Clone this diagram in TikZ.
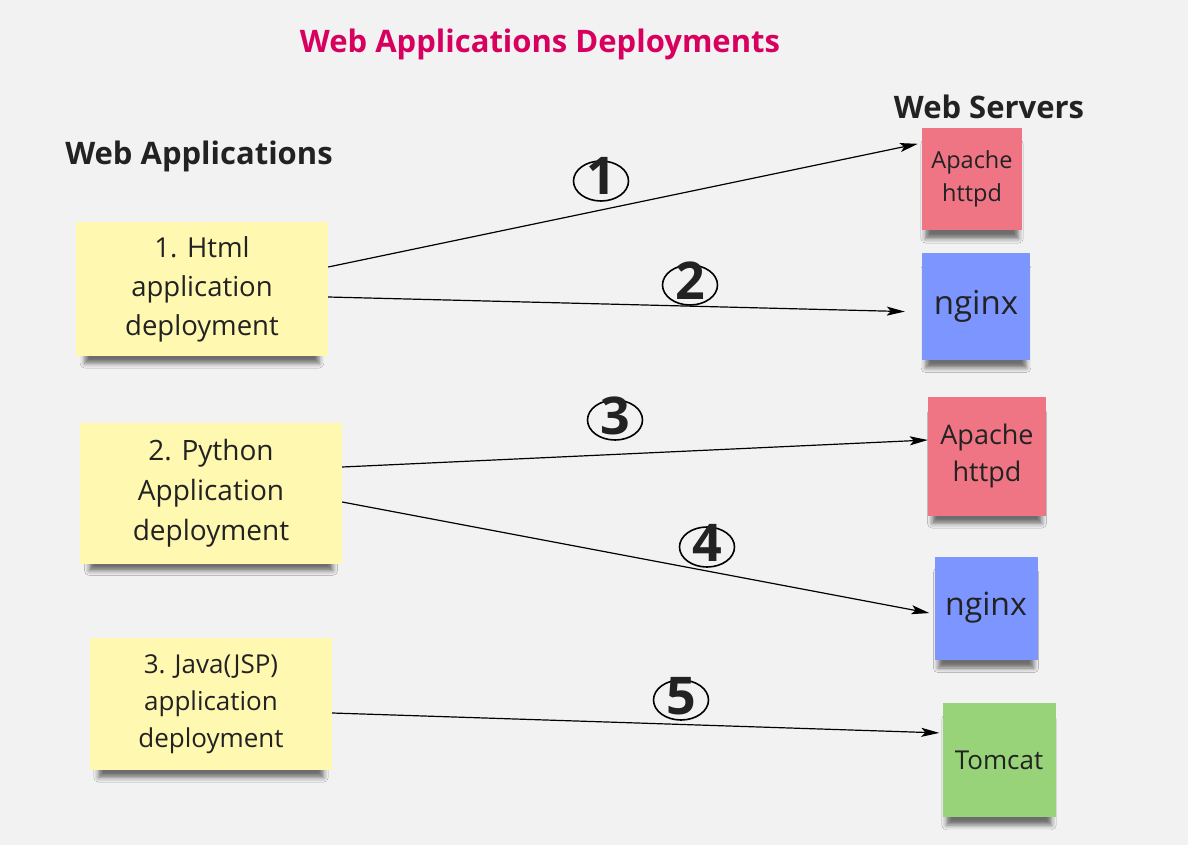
\documentclass[tikz,border=0pt]{standalone}
\usepackage{fontspec}
\setmainfont{Open Sans}
\usetikzlibrary{arrows.meta, shapes.geometric, shadows.blur}

\definecolor{bgcol}{HTML}{F2F2F2}
\definecolor{titlecol}{HTML}{D8005F}
\definecolor{inkcol}{HTML}{222222}
\definecolor{stickyyellow}{HTML}{FFF8B0}
\definecolor{stickyred}{HTML}{EF7585}
\definecolor{stickyblue}{HTML}{7D96FF}
\definecolor{stickygreen}{HTML}{98D37A}

\newcommand{\circdigit}[1]{\smash{\raisebox{-14pt}{#1}}}

\begin{document}
\begin{tikzpicture}[
    x=1pt, y=-1pt,
    heading/.style={anchor=base, text=inkcol, font=\fontsize{31}{36}\selectfont\bfseries},
    sticky/.style={align=center, text=inkcol, inner sep=0pt,
        blur shadow={shadow xshift=0pt, shadow yshift=-13pt, shadow blur radius=5pt,
            shadow opacity=55, shadow scale=.93}},
    appnote/.style={sticky, fill=stickyyellow},
    server/.style={sticky},
    numlabel/.style={draw, ellipse, line width=1.6pt, inner sep=0pt, minimum width=55pt, minimum height=40pt,
        font=\fontsize{52}{52}\selectfont\bfseries, text=inkcol},
    flow/.style={-{Stealth[length=18pt, width=9pt, inset=4pt]}, line width=1.2pt}
]

\fill[bgcol] (0,0) rectangle (1188,845);
\useasboundingbox (0,0) rectangle (1188,845);

% headings
\node[heading, text=titlecol] (title) at (540,53) {Web Applications Deployments};
\node[heading] (apphead) at (199,165) {Web Applications};
\node[heading] (srvhead) at (989,119) {Web Servers};

% web applications
\node[appnote, minimum width=252, minimum height=134, font=\fontsize{27.5}{39}\selectfont]
    (html) at (202,289) {1. Html\\application\\deployment};
\node[appnote, minimum width=262, minimum height=141, font=\fontsize{28}{40}\selectfont]
    (python) at (211,493) {2. Python\\Application\\deployment};
\node[appnote, minimum width=242, minimum height=132, font=\fontsize{26}{37}\selectfont]
    (java) at (211,704) {3. Java(JSP)\\application\\deployment};

% web servers
\node[server, fill=stickyred, minimum width=100, minimum height=102, font=\fontsize{23.5}{33}\selectfont]
    (apache1) at (972,179) {Apache\\httpd};
\node[server, fill=stickyblue, minimum width=108, minimum height=107, font=\fontsize{33}{40}\selectfont]
    (nginx1) at (976,306) {nginx};
\node[server, fill=stickyred, minimum width=118, minimum height=119, font=\fontsize{27}{37}\selectfont]
    (apache2) at (987,456) {Apache\\httpd};
\node[server, fill=stickyblue, minimum width=103, minimum height=103, font=\fontsize{32}{40}\selectfont]
    (nginx2) at (986,608) {nginx};
\node[server, fill=stickygreen, minimum width=113, minimum height=114, font=\fontsize{26}{34}\selectfont]
    (tomcat) at (999,760) {Tomcat};

% deployments
\draw[flow, shorten >=4pt] ([yshift=22pt]html.east) -- ([yshift=36pt]apache1.west);
\draw[flow, shorten >=17pt] ([yshift=-8pt]html.east) -- ([yshift=-6pt]nginx1.west);
\draw[flow] ([yshift=26pt]python.east) -- ([yshift=16pt]apache2.west);
\draw[flow, shorten >=5pt] ([yshift=-9pt]python.east) -- ([yshift=-6pt]nginx2.west);
\draw[flow, shorten >=3pt] ([yshift=-9pt]java.east) -- ([yshift=27pt]tomcat.west);

\node[numlabel] (num1) at (601,181) {\circdigit{1}};
\node[numlabel] (num2) at (690,285) {\circdigit{2}};
\node[numlabel] (num3) at (615,420) {\circdigit{3}};
\node[numlabel] (num4) at (707,547) {\circdigit{4}};
\node[numlabel] (num5) at (681,700) {\circdigit{5}};

\end{tikzpicture}
\end{document}
